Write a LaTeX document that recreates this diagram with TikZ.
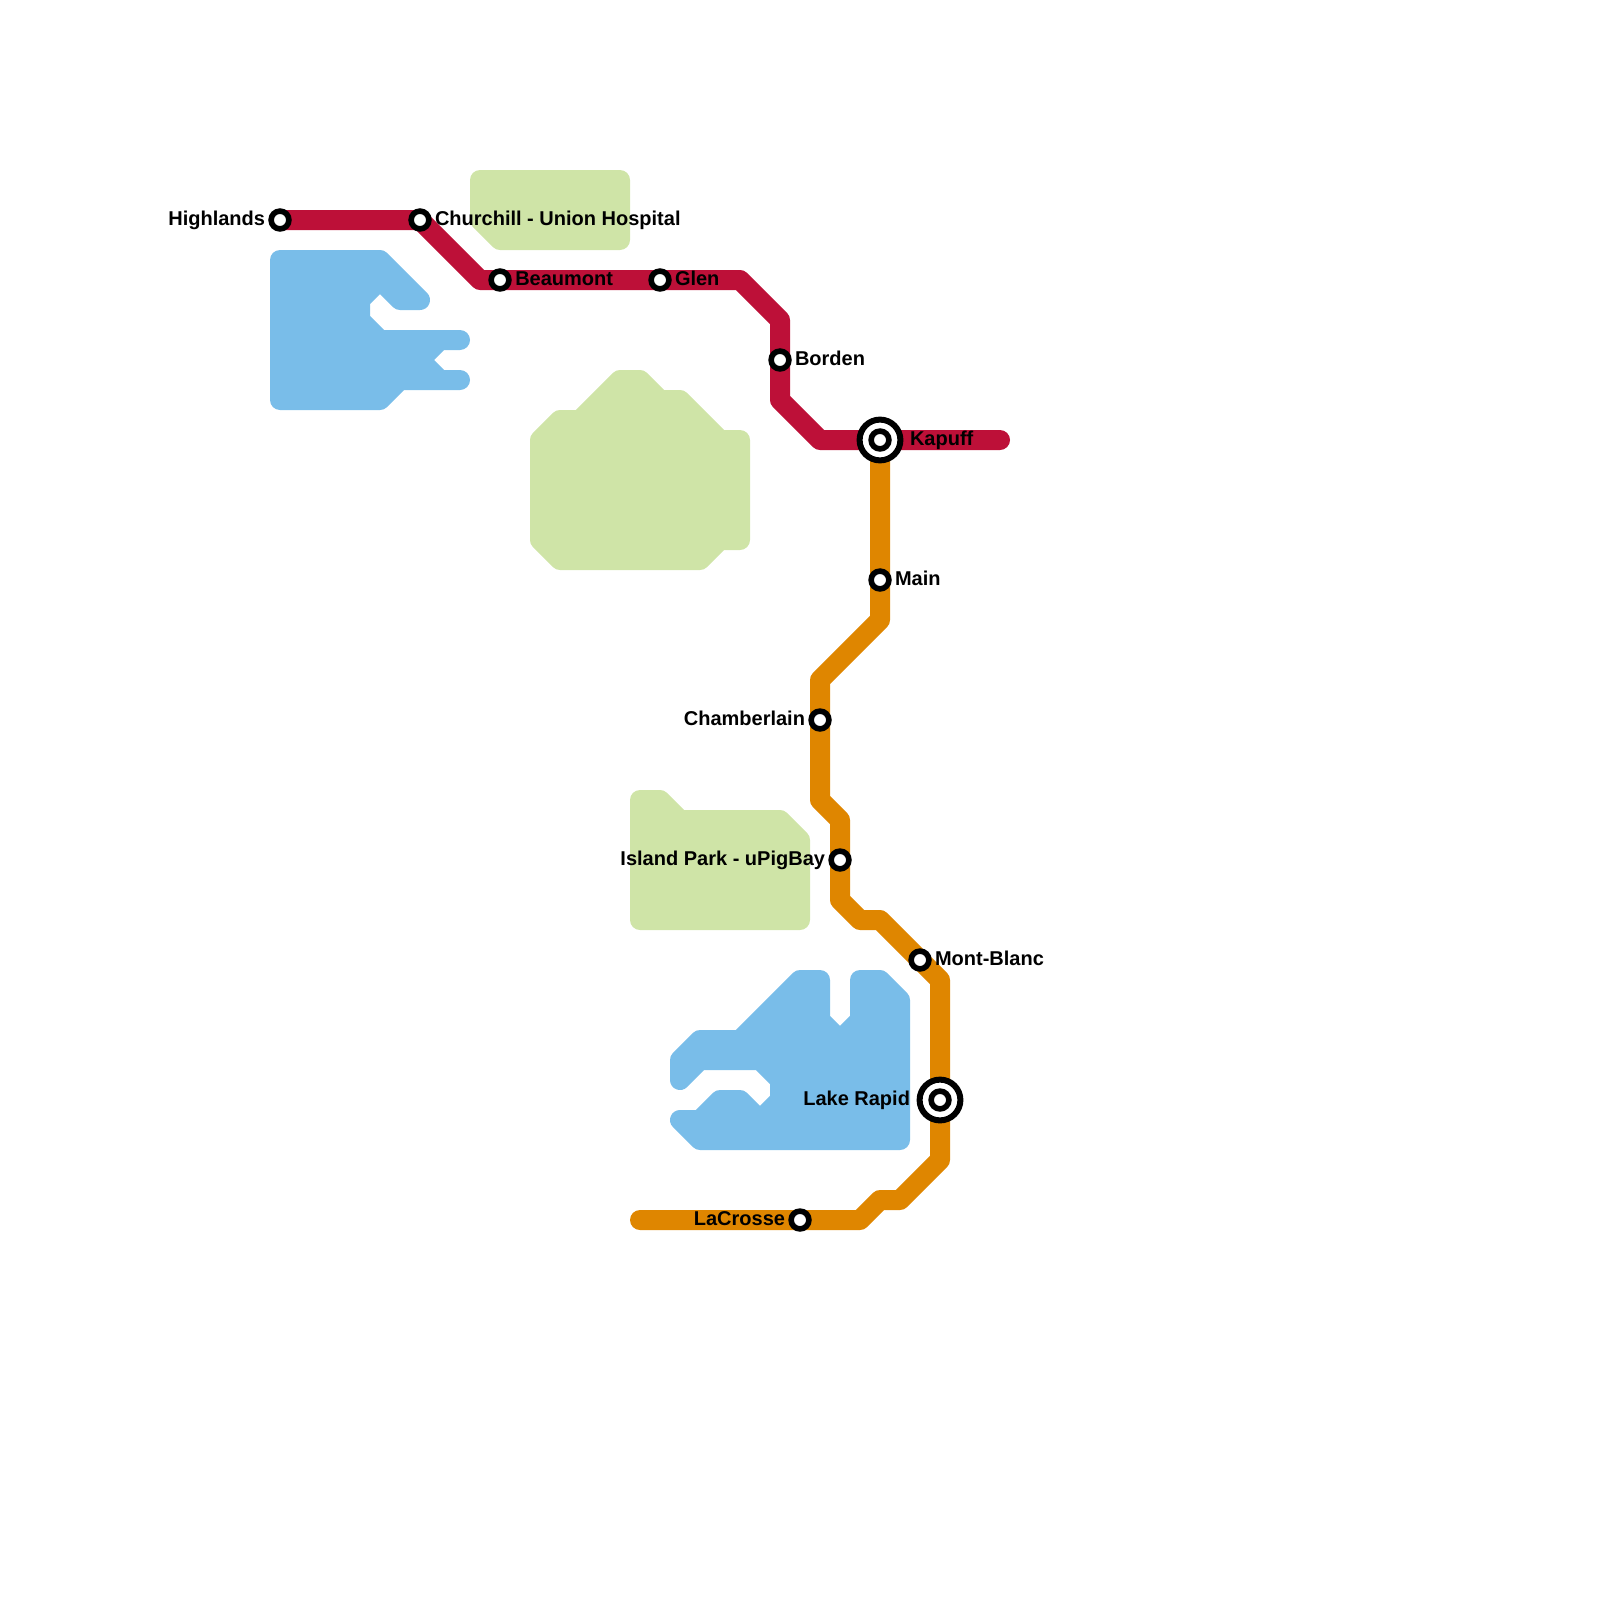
\documentclass[tikz,border=0pt]{standalone}
\usepackage{fontspec}
\setmainfont{Liberation Sans}
\definecolor{lred}{HTML}{BD1038}
\definecolor{lorange}{HTML}{DF8600}
\definecolor{wblue}{HTML}{79BDE9}
\definecolor{pgreen}{HTML}{CFE4A7}
\tikzset{
  area/.style={line width=10pt,line join=round,line cap=round},
  water/.style={area,draw=wblue,fill=wblue},
  park/.style={area,draw=pgreen,fill=pgreen},
  metro/.style={line width=10pt,line join=round,line cap=round},
  stn/.style={circle,draw=black,fill=white,line width=2.8pt,minimum size=8.9pt,inner sep=0pt},
  ring/.style={circle,draw=black,fill=white,line width=3pt,minimum size=20.4pt,inner sep=0pt},
  lbl/.style={font=\bfseries\fontsize{10pt}{12pt}\selectfont,inner sep=0pt,outer sep=0pt,text=black},
  lblr/.style={lbl,anchor=base west},
  lbll/.style={lbl,anchor=base east}
}
\begin{document}
\begin{tikzpicture}[x=0.5pt,y=-0.5pt]
\useasboundingbox (0,0) rectangle (1600,1600);
% areas
\draw[water] (280,260)--(380,260)--(420,300)--(400,300)--(380,280)--(360,300)--(360,320)--(380,340)--(460,340)--(440,340)--(420,360)--(440,380)--(460,380)--(400,380)--(380,400)--(280,400)--cycle;
\draw[water] (700,1140)--(680,1120)--(700,1120)--(720,1100)--(740,1100)--(760,1120)--(780,1100)--(780,1080)--(760,1060)--(700,1060)--(680,1080)--(680,1060)--(700,1040)--(740,1040)--(800,980)--(820,980)--(820,1020)--(840,1040)--(860,1020)--(860,980)--(880,980)--(900,1000)--(900,1140)--cycle;
\draw[park] (480,180)--(620,180)--(620,240)--(500,240)--(480,220)--cycle;
\draw[park] (540,440)--(560,420)--(580,420)--(620,380)--(640,380)--(660,400)--(680,400)--(720,440)--(740,440)--(740,540)--(720,540)--(700,560)--(560,560)--(540,540)--cycle;
\draw[park] (640,800)--(660,800)--(680,820)--(780,820)--(800,840)--(800,920)--(640,920)--cycle;
% stops and bends
\coordinate (highlands) at (280,220);
\coordinate (churchill) at (420,220);
\coordinate (beaumont) at (500,280);
\coordinate (glen) at (660,280);
\coordinate (borden) at (780,360);
\coordinate (kapuff) at (880,440);
\coordinate (main) at (880,580);
\coordinate (chamberlain) at (820,720);
\coordinate (island) at (840,860);
\coordinate (montblanc) at (920,960);
\coordinate (lakerapid) at (940,1100);
\coordinate (lacrosse) at (800,1220);
\coordinate (redA) at (480,280);
\coordinate (redB) at (740,280);
\coordinate (redC) at (780,320);
\coordinate (redD) at (780,400);
\coordinate (redE) at (820,440);
\coordinate (redEnd) at (1000,440);
\coordinate (orA) at (880,620);
\coordinate (orB) at (820,680);
\coordinate (orC) at (820,800);
\coordinate (orD) at (840,820);
\coordinate (orE) at (840,900);
\coordinate (orF) at (860,920);
\coordinate (orG) at (880,920);
\coordinate (orH) at (940,980);
\coordinate (orI) at (940,1160);
\coordinate (orJ) at (900,1200);
\coordinate (orK) at (880,1200);
\coordinate (orL) at (860,1220);
\coordinate (orEnd) at (640,1220);
% lines
\draw[metro,lorange] (kapuff)--(main)--(orA)--(orB)--(chamberlain)--(orC)--(orD)--(island)--(orE)--(orF)--(orG)--(montblanc)--(orH)--(lakerapid)--(orI)--(orJ)--(orK)--(orL)--(lacrosse)--(orEnd);
\draw[metro,lred] (highlands)--(churchill)--(redA)--(beaumont)--(glen)--(redB)--(redC)--(borden)--(redD)--(redE)--(kapuff)--(redEnd);
% stations
\node[stn] (stHighlands) at (highlands) {};
\node[stn] (stChurchill) at (churchill) {};
\node[stn] (stBeaumont) at (beaumont) {};
\node[stn] (stGlen) at (glen) {};
\node[stn] (stBorden) at (borden) {};
\node[ring] (rgKapuff) at (kapuff) {};
\node[stn] (stKapuff) at (kapuff) {};
\node[stn] (stMain) at (main) {};
\node[stn] (stChamberlain) at (chamberlain) {};
\node[stn] (stIsland) at (island) {};
\node[stn] (stMontblanc) at (montblanc) {};
\node[ring] (rgLake) at (lakerapid) {};
\node[stn] (stLake) at (lakerapid) {};
\node[stn] (stLacrosse) at (lacrosse) {};
% labels
\node[lbll] (tHighlands) at (265,225) {Highlands};
\node[lblr] (tChurchill) at (435,225) {Churchill - Union Hospital};
\node[lblr] (tBeaumont) at (515.3,285) {Beaumont};
\node[lblr] (tGlen) at (675,285) {Glen};
\node[lblr] (tBorden) at (795,365) {Borden};
\node[lblr] (tKapuff) at (910,445) {Kapuff};
\node[lblr] (tMain) at (895,585) {Main};
\node[lbll] (tChamberlain) at (805,725) {Chamberlain};
\node[lbll] (tIsland) at (825,865) {Island Park - uPigBay};
\node[lblr] (tMontblanc) at (935,965) {Mont-Blanc};
\node[lbll] (tLake) at (910,1105) {Lake Rapid};
\node[lbll] (tLacrosse) at (785,1225) {LaCrosse};
\end{tikzpicture}
\end{document}
